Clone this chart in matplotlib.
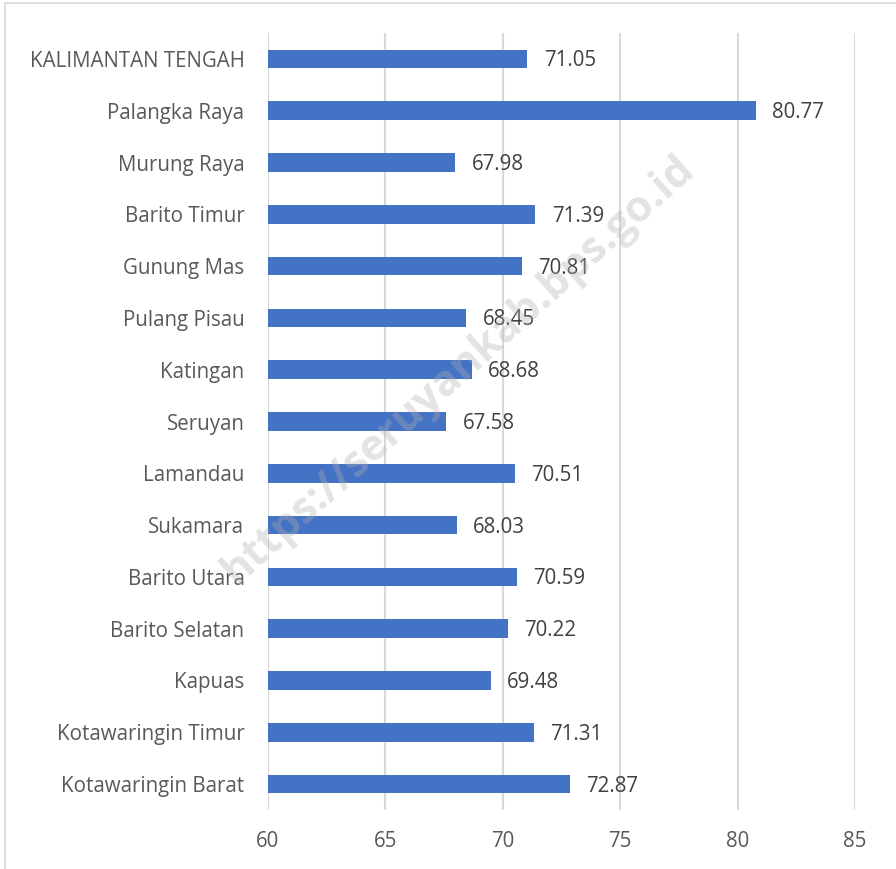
import matplotlib.pyplot as plt
from matplotlib.patches import Rectangle

# Data, top to bottom as in the picture
regions = ['KALIMANTAN TENGAH', 'Palangka Raya', 'Murung Raya', 'Barito Timur',
           'Gunung Mas', 'Pulang Pisau', 'Katingan', 'Seruyan', 'Lamandau',
           'Sukamara', 'Barito Utara', 'Barito Selatan', 'Kapuas',
           'Kotawaringin Timur', 'Kotawaringin Barat']
values = [71.05, 80.77, 67.98, 71.39, 70.81, 68.45, 68.68, 67.58, 70.51,
          68.03, 70.59, 70.22, 69.48, 71.31, 72.87]
xticks = [60, 65, 70, 75, 80, 85]

plt.rcParams['font.family'] = ['Open Sans', 'DejaVu Sans']

fig = plt.figure(figsize=(8.96, 8.69), dpi=100)
ax = fig.add_axes([0.2991, 0.0679, 0.6551, 0.8941])

pos = list(range(len(regions)))
ax.barh(pos, [v - 60 for v in values], left=60, height=0.36, color='#4472C4', zorder=3)
for p, v in zip(pos, values):
    ax.text(v + 0.7, p + 0.04, f'{v:.2f}', va='center', ha='left', fontsize=14.8, color='#404040', zorder=4)

ax.set_xlim(60, 85)
ax.set_ylim(len(regions) - 0.5, -0.5)
ax.set_xticks(xticks)
ax.set_xticklabels([str(t) for t in xticks], fontsize=14.8, color='#595959')
ax.set_yticks(pos)
ax.set_yticklabels(regions, fontsize=14.8, color='#595959')
ax.tick_params(length=0, pad=17, axis='y')
ax.tick_params(length=0, pad=15, axis='x')
ax.grid(axis='x', color='#d9d9d9', linewidth=1.5, zorder=0)
for s in ax.spines.values():
    s.set_visible(False)

# watermark
fig.text(0.512, 0.575, 'https://seruyankab.bps.go.id', rotation=42, fontsize=31,
         family='Open Sans', fontweight='bold', color='#b0b0b0', alpha=0.35,
         ha='center', va='center', zorder=10)

# outer border
fig.patches.append(Rectangle((0.006, -0.01), 1.1, 1.006, transform=fig.transFigure,
                             fill=False, edgecolor='#d9d9d9', linewidth=1.2))

fig.savefig('out.png', dpi=100)
